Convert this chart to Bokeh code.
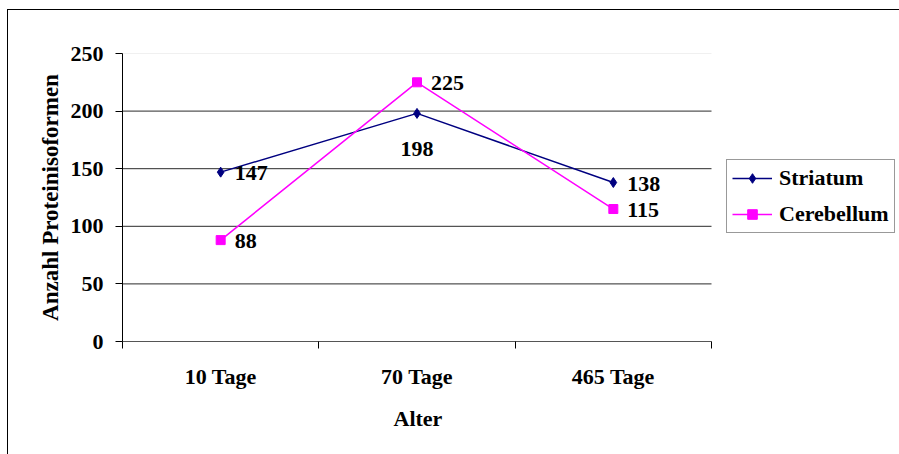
from bokeh.plotting import figure
from bokeh.models import (Range1d, FixedTicker, Legend, LegendItem, Title,
                          InlineStyleSheet)
from bokeh.core.properties import value
from bokeh.embed import file_html
from bokeh.resources import INLINE

# --- data -------------------------------------------------------------
categories = ["10 Tage", "70 Tage", "465 Tage"]
striatum = [147, 198, 138]
cerebellum = [88, 225, 115]
y_ticks = [0, 50, 100, 150, 200, 250]
x_title = "Alter"
y_title = "Anzahl Proteinisoformen"

# where each value label sits relative to its point
label_place = {
    "Striatum": ["right", "below", "right"],
    "Cerebellum": ["right", "right", "right"],
}

FONT = "Liberation Serif"
SIZE = "22px"
NAVY = "#000080"
MAGENTA = "#FF00FF"

W, H = 899, 454
LEFT, TOP, BOTTOM = 122, 53, 113
PLOT_RIGHT = 711          # pixel where the category axis ends
n = len(categories)
xs = [i + 0.5 for i in range(n)]

# the frame reaches the right edge so the legend can sit beside the plot area;
# the category axis itself ends at PLOT_RIGHT
x_end = n * (W - LEFT) / (PLOT_RIGHT - LEFT)

p = figure(width=W, height=H, output_backend="svg", toolbar_location=None,
           x_range=Range1d(0, x_end), y_range=Range1d(0, y_ticks[-1]),
           min_border_left=LEFT, min_border_right=0,
           min_border_top=TOP, min_border_bottom=BOTTOM)
p.outline_line_color = None
p.background_fill_color = "white"
p.border_fill_color = "white"

# thin frame around the whole chart area (open towards right/bottom edge)
p.stylesheets = [InlineStyleSheet(css="""
:host { overflow: hidden; }
:host::after {
  content: ""; position: absolute; left: 7px; top: 9px;
  right: -10px; bottom: -10px; border: 1px solid #000;
  pointer-events: none;
}
""")]

# x axis: labels centred under each category, tick marks between them
p.xaxis.bounds = (0, n)
p.xaxis.ticker = FixedTicker(ticks=xs, minor_ticks=list(range(n + 1)))
p.xaxis.major_label_overrides = {x: c for x, c in zip(xs, categories)}
p.xaxis.major_tick_out = 0
p.xaxis.major_tick_in = 0
p.xaxis.minor_tick_out = 7
p.xaxis.minor_tick_in = 0
p.xaxis.minor_tick_line_color = "black"
p.xaxis.axis_line_color = "#555555"
p.xaxis.major_label_standoff = 15

p.yaxis.ticker = FixedTicker(ticks=y_ticks)
p.yaxis.major_tick_out = 7
p.yaxis.major_tick_in = 0
p.yaxis.minor_tick_line_color = None
p.yaxis.major_tick_line_color = "black"
p.yaxis.axis_line_color = "black"
p.yaxis.major_label_standoff = 12
p.yaxis.axis_label = y_title
p.yaxis.axis_label_standoff = 5
p.yaxis.axis_label_text_font = FONT
p.yaxis.axis_label_text_font_style = "bold"
p.yaxis.axis_label_text_font_size = "23px"
p.yaxis.axis_label_text_color = "black"

for ax in (p.xaxis, p.yaxis):
    ax.major_label_text_font = FONT
    ax.major_label_text_font_style = "bold"
    ax.major_label_text_font_size = SIZE
    ax.major_label_text_color = "black"

# x axis title, centred under the category span
p.add_layout(Title(text=x_title, align="left", offset=271, standoff=24,
                   text_font=FONT, text_font_style="bold",
                   text_font_size=SIZE, text_color="black"), "below")

# horizontal gridlines across the category span only
p.grid.visible = False
inner = y_ticks[1:-1]
p.segment(x0=[0] * len(inner), x1=[n] * len(inner), y0=inner, y1=inner,
          line_color="#2a2a2a", line_width=1)
p.segment(x0=[0], x1=[n], y0=[y_ticks[-1]], y1=[y_ticks[-1]],
          line_color="#e2e2e2", line_width=1)

# --- series -----------------------------------------------------------
l1 = p.line(xs, striatum, line_color=NAVY, line_width=1.5)
m1 = p.scatter(xs, striatum, marker="diamond", size=10,
               fill_color=NAVY, line_color=NAVY)
l2 = p.line(xs, cerebellum, line_color=MAGENTA, line_width=1.5)
m2 = p.scatter(xs, cerebellum, marker="square", size=9,
               fill_color=MAGENTA, line_color=MAGENTA)

for name, vals in (("Striatum", striatum), ("Cerebellum", cerebellum)):
    place = label_place[name]
    p.text(xs, vals, text=[str(v) for v in vals],
           x_offset=[14 if s == "right" else 0 for s in place],
           y_offset=[1 if s == "right" else 36 for s in place],
           text_align=["left" if s == "right" else "center" for s in place],
           text_baseline="middle",
           text_font=value(FONT), text_font_style="bold",
           text_font_size=SIZE, text_color="black")

legend = Legend(items=[LegendItem(label="Striatum", renderers=[l1, m1]),
                       LegendItem(label="Cerebellum", renderers=[l2, m2])],
                location=(PLOT_RIGHT + 15 - LEFT, 108), margin=0, padding=5,
                spacing=10, glyph_width=40, glyph_height=24, label_height=24,
                label_standoff=7,
                label_text_font=FONT, label_text_font_style="bold",
                label_text_font_size=SIZE, label_text_color="black",
                border_line_color="#333333", border_line_width=1,
                background_fill_color="white", background_fill_alpha=1)
p.add_layout(legend)

open("out.html", "w").write(file_html(p, INLINE))
